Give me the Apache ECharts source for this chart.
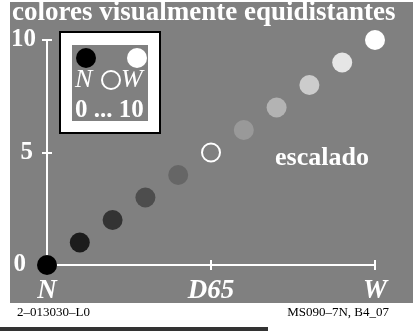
<!DOCTYPE html>
<html>
<head>
<meta charset="utf-8">
<script src="https://cdn.jsdelivr.net/npm/echarts@6/dist/echarts.min.js"></script>
<style>
  html, body { margin: 0; padding: 0; background: #fff; }
  #chart { width: 413px; height: 331px; }
</style>
</head>
<body>
<div id="chart"></div>
<script>
// steps along the N -> W scale
const steps = [0, 1, 2, 3, 4, 5, 6, 7, 8, 9, 10];
const levels = [0, 1, 2, 3, 4, 5, 6, 7, 8, 9, 10];
const grays = ["#000000", "#1c1c1c", "#333333", "#4d4d4d", "#666666", "#808080",
               "#999999", "#b3b3b3", "#cccccc", "#e6e6e6", "#ffffff"];
const hollowIndex = 5;
const xTickLabels = { 0: "N", 5: "D65", 10: "W" };
const yTickLabels = { 0: "{z|0}", 5: "{f|5}", 10: "{t|10}" };

const SERIF = "'Liberation Serif', 'DejaVu Serif', serif";

const points = steps.map((s, i) => ({
  value: [s, levels[i]],
  symbolSize: i === hollowIndex ? 18 : 20,
  itemStyle: i === hollowIndex
    ? { color: "rgba(0,0,0,0)", borderColor: "#fff", borderWidth: 2, opacity: 1 }
    : { color: grays[i], opacity: 1 }
}));

const chart = echarts.init(document.getElementById("chart"));

const axisCommon = {
  type: "value",
  min: 0,
  max: 10,
  interval: 5,
  splitLine: { show: false }
};

const yLabelFont = { color: "#fff", fontFamily: SERIF, fontWeight: "bold", fontSize: 25 };

chart.setOption({
  backgroundColor: "#ffffff",
  animation: false,
  title: {
    text: "colores visualmente equidistantes",
    left: 12,
    top: 0,
    padding: 0,
    textStyle: { color: "#fff", fontFamily: SERIF, fontWeight: "bold", fontSize: 27 }
  },
  grid: { left: 47, right: 38, top: 40, bottom: 66 },
  xAxis: [
    Object.assign({}, axisCommon, {
      axisLine: { lineStyle: { color: "#fff", width: 2 } },
      axisTick: { lineStyle: { color: "#fff", width: 2 }, length: 5 },
      axisLabel: {
        color: "#fff", fontFamily: SERIF, fontWeight: "bold", fontStyle: "italic",
        fontSize: 27, margin: 13,
        formatter: v => xTickLabels[v] || ""
      }
    }),
    Object.assign({}, axisCommon, {
      position: "bottom",
      axisLine: { show: false },
      axisTick: { inside: true, lineStyle: { color: "#fff", width: 2 }, length: 5 },
      axisLabel: { show: false }
    })
  ],
  yAxis: [
    Object.assign({}, axisCommon, {
      axisLine: { lineStyle: { color: "#fff", width: 2 } },
      axisTick: { lineStyle: { color: "#fff", width: 2 }, length: 5 },
      axisLabel: Object.assign({}, yLabelFont, {
        margin: 11,
        formatter: v => yTickLabels[v] || "",
        rich: {
          z: Object.assign({}, yLabelFont, { padding: [0, 10, 0, 0] }),
          f: Object.assign({}, yLabelFont, { padding: [0, 3, 0, 0] }),
          t: Object.assign({}, yLabelFont)
        }
      })
    }),
    Object.assign({}, axisCommon, {
      position: "left",
      axisLine: { show: false },
      axisTick: { inside: true, lineStyle: { color: "#fff", width: 2 }, length: 5 },
      axisLabel: { show: false }
    })
  ],
  graphic: [
    { type: "rect", z: -10, shape: { x: 10, y: 2, width: 403, height: 301 }, style: { fill: "#808080" } },
    { type: "rect", z: -10, shape: { x: 0, y: 327, width: 268, height: 4 }, style: { fill: "#333333" } },
    // legend box
    { type: "rect", z: 5, shape: { x: 60, y: 32, width: 100, height: 101 },
      style: { fill: "#fff", stroke: "#000", lineWidth: 2 } },
    { type: "rect", z: 6, shape: { x: 72, y: 45, width: 76, height: 76 }, style: { fill: "#808080" } },
    { type: "circle", z: 7, shape: { cx: 86, cy: 58, r: 10 }, style: { fill: "#000" } },
    { type: "circle", z: 7, shape: { cx: 137, cy: 58, r: 10 }, style: { fill: "#fff" } },
    { type: "circle", z: 7, shape: { cx: 111, cy: 80, r: 9 }, style: { fill: "none", stroke: "#fff", lineWidth: 2 } },
    { type: "text", z: 7, left: 75, top: 67, style: { text: "N", fill: "#fff", font: "italic 26px " + SERIF } },
    { type: "text", z: 7, left: 121, top: 67, style: { text: "W", fill: "#fff", font: "italic 26px " + SERIF } },
    { type: "text", z: 7, left: 75, top: 98, style: { text: "0 ... 10", fill: "#fff", font: "bold 25px " + SERIF } },
    // annotation
    { type: "text", z: 7, left: 275, top: 145, style: { text: "escalado", fill: "#fff", font: "bold 26px " + SERIF } },
    // footer
    { type: "text", left: 17, top: 306, style: { text: "2–013030–L0", fill: "#000", font: "13px " + SERIF } },
    { type: "text", right: 24, top: 306, style: { text: "MS090–7N, B4_07", fill: "#000", font: "13px " + SERIF } }
  ],
  series: [{
    type: "scatter",
    xAxisIndex: 0,
    yAxisIndex: 0,
    symbol: "circle",
    clip: false,
    z: 10,
    data: points
  }]
});
</script>
</body>
</html>
